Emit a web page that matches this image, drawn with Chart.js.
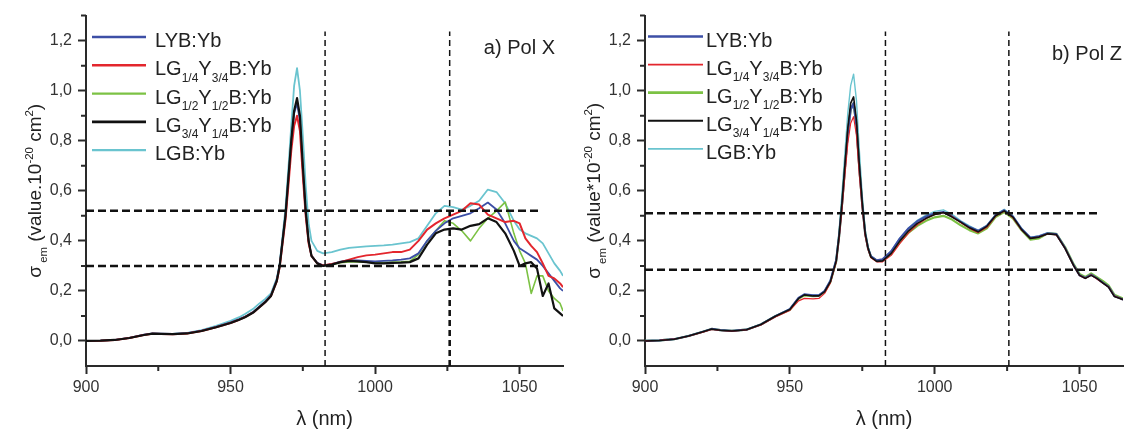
<!DOCTYPE html>
<html>
<head>
<meta charset="utf-8">
<script src="https://cdn.jsdelivr.net/npm/chart.js@4.4.1/dist/chart.umd.min.js"></script>
<style>
  html, body { margin: 0; padding: 0; background: #fff; }
  #wrap { position: relative; width: 1126px; height: 432px; overflow: hidden; }
  canvas { position: absolute; top: 0; }
</style>
</head>
<body>
<div id="wrap">
  <canvas id="chartA" width="566" height="432" style="left:0"></canvas>
  <canvas id="chartB" width="566" height="432" style="left:560px"></canvas>
</div>
<script>
// wavelength grid (nm), shared by all series
const wavelengths = [
  900, 905, 910, 915, 920,
  923, 926, 930, 935, 940,
  945, 950, 953, 955, 958,
  960, 962, 964, 966, 967,
  968, 969, 970, 971, 972,
  973, 974, 975, 976, 977,
  978, 980, 982, 985, 988,
  991, 994, 997, 1000, 1003,
  1006, 1009, 1012, 1015, 1018,
  1021, 1024, 1027, 1030, 1033,
  1036, 1039, 1042, 1045, 1048,
  1050, 1052, 1054, 1056, 1058,
  1060, 1062, 1064, 1065
];

const seriesNames = ['LYB:Yb', 'LG1/4Y3/4B:Yb', 'LG1/2Y1/2B:Yb', 'LG3/4Y1/4B:Yb', 'LGB:Yb'];
const seriesColors = ['#3d4fa6', '#e3262d', '#7cc244', '#111111', '#6ac4cf'];

// a) Pol X
const polX_LYB = [
  0, 0.001, 0.004, 0.012, 0.025,
  0.030, 0.029, 0.028, 0.031, 0.041,
  0.056, 0.074, 0.087, 0.097, 0.118,
  0.138, 0.158, 0.183, 0.245, 0.305,
  0.405, 0.505, 0.650, 0.795, 0.910,
  0.950, 0.880, 0.690, 0.515, 0.400,
  0.340, 0.312, 0.302, 0.307, 0.317,
  0.323, 0.322, 0.320, 0.318, 0.320,
  0.322, 0.325, 0.330, 0.350, 0.400,
  0.440, 0.470, 0.490, 0.500, 0.510,
  0.530, 0.553, 0.525, 0.470, 0.400,
  0.370, 0.355, 0.340, 0.325, 0.300,
  0.270, 0.240, 0.210, 0.200
];
const polX_G14 = [
  0, 0.001, 0.004, 0.012, 0.024,
  0.029, 0.028, 0.027, 0.030, 0.040,
  0.055, 0.072, 0.085, 0.095, 0.115,
  0.135, 0.155, 0.180, 0.238, 0.295,
  0.390, 0.485, 0.620, 0.760, 0.860,
  0.900, 0.840, 0.660, 0.500, 0.390,
  0.340, 0.310, 0.302, 0.308, 0.315,
  0.325, 0.335, 0.342, 0.345, 0.350,
  0.355, 0.355, 0.365, 0.400, 0.445,
  0.470, 0.490, 0.505, 0.520, 0.550,
  0.545, 0.505, 0.490, 0.475, 0.480,
  0.470, 0.410, 0.380, 0.355, 0.310,
  0.260, 0.250, 0.230, 0.215
];
const polX_G12 = [
  0, 0.001, 0.004, 0.012, 0.024,
  0.029, 0.028, 0.027, 0.030, 0.040,
  0.055, 0.073, 0.086, 0.096, 0.116,
  0.136, 0.156, 0.181, 0.242, 0.302,
  0.402, 0.502, 0.650, 0.800, 0.915,
  0.955, 0.890, 0.695, 0.515, 0.400,
  0.340, 0.311, 0.301, 0.305, 0.313,
  0.316, 0.316, 0.315, 0.313, 0.313,
  0.315, 0.316, 0.318, 0.345, 0.400,
  0.440, 0.480, 0.470, 0.440, 0.400,
  0.450, 0.490, 0.520, 0.555, 0.430,
  0.360, 0.310, 0.190, 0.260, 0.260,
  0.200, 0.170, 0.150, 0.120
];
const polX_G34 = [
  0, 0.001, 0.004, 0.012, 0.024,
  0.029, 0.028, 0.027, 0.030, 0.040,
  0.055, 0.072, 0.085, 0.095, 0.115,
  0.135, 0.155, 0.180, 0.240, 0.300,
  0.400, 0.500, 0.650, 0.800, 0.920,
  0.970, 0.900, 0.700, 0.520, 0.400,
  0.340, 0.310, 0.300, 0.305, 0.315,
  0.320, 0.318, 0.315, 0.310, 0.310,
  0.312, 0.313, 0.315, 0.330, 0.385,
  0.430, 0.445, 0.450, 0.445, 0.460,
  0.467, 0.490, 0.475, 0.430, 0.360,
  0.300, 0.310, 0.315, 0.290, 0.180,
  0.230, 0.130, 0.110, 0.100
];
const polX_LGB = [
  0, 0.001, 0.004, 0.012, 0.024,
  0.029, 0.028, 0.028, 0.032, 0.043,
  0.060, 0.080, 0.095, 0.108, 0.130,
  0.150, 0.168, 0.190, 0.250, 0.310,
  0.420, 0.530, 0.690, 0.860, 1.020,
  1.090, 1.000, 0.820, 0.620, 0.470,
  0.400, 0.360, 0.350, 0.355, 0.365,
  0.372, 0.375, 0.378, 0.380, 0.382,
  0.385, 0.390, 0.395, 0.410, 0.460,
  0.510, 0.540, 0.535, 0.525, 0.540,
  0.560, 0.605, 0.595, 0.550, 0.480,
  0.445, 0.430, 0.420, 0.410, 0.390,
  0.350, 0.310, 0.280, 0.260
];

// b) Pol Z
const polZ_LYB = [
  0, 0.002, 0.007, 0.020, 0.037,
  0.048, 0.043, 0.040, 0.045, 0.066,
  0.099, 0.127, 0.172, 0.186, 0.182,
  0.182, 0.199, 0.240, 0.322, 0.420,
  0.545, 0.690, 0.830, 0.925, 0.950,
  0.860, 0.690, 0.545, 0.430, 0.370,
  0.338, 0.322, 0.326, 0.358, 0.410,
  0.450, 0.478, 0.497, 0.510, 0.515,
  0.498, 0.476, 0.455, 0.440, 0.460,
  0.502, 0.522, 0.497, 0.447, 0.412,
  0.418, 0.430, 0.427, 0.372, 0.302,
  0.263, 0.252, 0.265, 0.250, 0.233,
  0.217, 0.180, 0.171, 0.166
];
const polZ_G14 = [
  0, 0.002, 0.007, 0.019, 0.035,
  0.046, 0.042, 0.039, 0.044, 0.064,
  0.096, 0.122, 0.160, 0.170, 0.168,
  0.170, 0.190, 0.232, 0.315, 0.410,
  0.525, 0.660, 0.790, 0.870, 0.896,
  0.820, 0.660, 0.530, 0.420, 0.365,
  0.332, 0.316, 0.316, 0.342, 0.390,
  0.432, 0.464, 0.488, 0.505, 0.513,
  0.497, 0.472, 0.450, 0.433, 0.453,
  0.498, 0.518, 0.492, 0.443, 0.410,
  0.415, 0.428, 0.424, 0.370, 0.300,
  0.262, 0.250, 0.264, 0.248, 0.232,
  0.216, 0.179, 0.170, 0.165
];
const polZ_G12 = [
  0, 0.002, 0.007, 0.020, 0.037,
  0.048, 0.043, 0.040, 0.045, 0.066,
  0.099, 0.125, 0.168, 0.182, 0.179,
  0.180, 0.196, 0.236, 0.318, 0.418,
  0.545, 0.690, 0.830, 0.925, 0.950,
  0.860, 0.690, 0.545, 0.430, 0.370,
  0.336, 0.320, 0.322, 0.348, 0.395,
  0.433, 0.460, 0.480, 0.494, 0.500,
  0.485, 0.462, 0.443, 0.430, 0.450,
  0.495, 0.515, 0.490, 0.442, 0.405,
  0.410, 0.430, 0.428, 0.375, 0.306,
  0.268, 0.256, 0.270, 0.255, 0.240,
  0.222, 0.185, 0.175, 0.170
];
const polZ_G34 = [
  0, 0.002, 0.007, 0.020, 0.037,
  0.048, 0.043, 0.040, 0.045, 0.066,
  0.099, 0.126, 0.170, 0.184, 0.180,
  0.180, 0.197, 0.237, 0.320, 0.420,
  0.550, 0.700, 0.850, 0.950, 0.975,
  0.880, 0.700, 0.550, 0.430, 0.370,
  0.335, 0.318, 0.320, 0.350, 0.400,
  0.440, 0.470, 0.490, 0.505, 0.513,
  0.495, 0.475, 0.452, 0.436, 0.458,
  0.500, 0.520, 0.495, 0.445, 0.410,
  0.415, 0.428, 0.425, 0.370, 0.300,
  0.262, 0.250, 0.262, 0.250, 0.232,
  0.215, 0.178, 0.170, 0.165
];
const polZ_LGB = [
  0, 0.002, 0.007, 0.020, 0.037,
  0.048, 0.043, 0.040, 0.046, 0.067,
  0.100, 0.128, 0.172, 0.186, 0.183,
  0.183, 0.200, 0.242, 0.328, 0.440,
  0.590, 0.750, 0.910, 1.020, 1.066,
  0.960, 0.760, 0.580, 0.445, 0.378,
  0.340, 0.322, 0.326, 0.360, 0.412,
  0.452, 0.482, 0.503, 0.518, 0.524,
  0.506, 0.480, 0.460, 0.442, 0.462,
  0.505, 0.526, 0.500, 0.450, 0.415,
  0.420, 0.433, 0.428, 0.373, 0.303,
  0.264, 0.253, 0.267, 0.250, 0.234,
  0.218, 0.181, 0.172, 0.167
];

// dashed guide lines
const guideX_A = [982.7, 1025.8];
const guideY_A = [0.52, 0.30];
const guideX_B = [983, 1025.6];
const guideY_B = [0.51, 0.285];
const guideSpanX = [900, 1057];
const guideSpanY = [-0.1, 1.236];

const FONT = '"Liberation Sans", Arial, sans-serif';
const AXIS = '#2a2a2a';

const legendParts = [
  [['LYB:Yb']],
  [['LG'], ['1/4', 'sub'], ['Y'], ['3/4', 'sub'], ['B:Yb']],
  [['LG'], ['1/2', 'sub'], ['Y'], ['1/2', 'sub'], ['B:Yb']],
  [['LG'], ['3/4', 'sub'], ['Y'], ['1/4', 'sub'], ['B:Yb']],
  [['LGB:Yb']]
];

function drawRich(ctx, parts, x, y, size, align) {
  const segs = parts.map(([t, m]) => {
    const fs = m ? size * 0.6 : size;
    ctx.font = fs + 'px ' + FONT;
    return { t, fs, dy: m === 'sub' ? size * 0.32 : m === 'sup' ? -size * 0.42 : 0, w: ctx.measureText(t).width };
  });
  const total = segs.reduce((a, s) => a + s.w, 0);
  let cx = align === 'center' ? x - total / 2 : align === 'right' ? x - total : x;
  ctx.textAlign = 'left';
  ctx.textBaseline = 'alphabetic';
  segs.forEach(s => {
    ctx.font = s.fs + 'px ' + FONT;
    ctx.fillText(s.t, cx, y + s.dy);
    cx += s.w;
  });
}

const isMajorX = v => Math.round(v) % 50 === 0;
const isMajorY = v => Math.round(v * 10) % 2 === 0;

const decor = {
  id: 'decor',
  afterDraw(chart, args, o) {
    const ctx = chart.ctx;
    const xs = chart.scales.x, ys = chart.scales.y;
    ctx.save();
    // minor ticks
    ctx.strokeStyle = AXIS;
    ctx.lineWidth = 2;
    ctx.beginPath();
    xs.ticks.forEach(t => {
      if (!isMajorX(t.value)) {
        const p = xs.getPixelForValue(t.value);
        ctx.moveTo(p, xs.top); ctx.lineTo(p, xs.top + 5);
      }
    });
    ys.ticks.forEach(t => {
      if (!isMajorY(t.value) && t.value > -0.05) {
        const p = ys.getPixelForValue(t.value);
        ctx.moveTo(ys.right - 5, p); ctx.lineTo(ys.right, p);
      }
    });
    ctx.stroke();

    ctx.fillStyle = '#222';
    // panel label
    ctx.font = '20px ' + FONT;
    ctx.textAlign = 'right';
    ctx.textBaseline = 'alphabetic';
    ctx.fillText(o.label, o.labelX, o.labelY);

    // x title
    ctx.textAlign = 'center';
    ctx.fillText('λ (nm)', (chart.chartArea.left + chart.chartArea.right) / 2, 425);

    // y title
    ctx.save();
    ctx.translate(o.yTitleX, (chart.chartArea.top + chart.chartArea.bottom) / 2);
    ctx.rotate(-Math.PI / 2);
    drawRich(ctx, o.yTitle, 0, 0, 19, 'center');
    ctx.restore();

    // legend
    o.legendRows.forEach((parts, i) => {
      const ds = chart.data.datasets[i];
      const y = o.legendY0 + i * o.legendDy;
      ctx.strokeStyle = ds.borderColor;
      ctx.lineWidth = ds.borderWidth + 0.5;
      ctx.setLineDash([]);
      ctx.beginPath();
      ctx.moveTo(o.legendX0, y); ctx.lineTo(o.legendX1, y);
      ctx.stroke();
      ctx.fillStyle = '#222';
      drawRich(ctx, parts, o.textX, y + 10, 20, 'left');
    });
    ctx.restore();
  }
};

function seriesSet(values, widths, orders) {
  return values.map((vals, i) => ({
    label: seriesNames[i],
    data: wavelengths.map((w, k) => ({ x: w, y: vals[k] })),
    borderColor: seriesColors[i],
    borderWidth: widths[i],
    pointRadius: 0,
    tension: 0,
    borderJoinStyle: 'round',
    order: orders[i]
  }));
}

function guideSets(gx, gy, extra) {
  const sets = [];
  gx.forEach(v => sets.push({
    data: guideSpanY.map(y => ({ x: v, y })),
    borderColor: '#111', borderWidth: 1.5, borderDash: [6, 4], pointRadius: 0, order: -1
  }));
  gy.forEach(v => sets.push({
    data: guideSpanX.map(x => ({ x, y: v })),
    borderColor: '#111', borderWidth: 2.5, borderDash: [8, 4], pointRadius: 0, order: -1
  }));
  if (extra) sets.push({
    data: [{ x: gx[1], y: -0.1 }, { x: gx[1], y: gy[0] }],
    borderColor: '#111', borderWidth: 2.5, borderDash: [6, 4], pointRadius: 0, order: -1
  });
  return sets;
}

function makeChart(id, datasets, yWidth, decorOpts) {
  return new Chart(document.getElementById(id), {
    type: 'line',
    data: { datasets },
    options: {
      responsive: false,
      animation: false,
      layout: { padding: { top: 11, right: 3, left: 0, bottom: 0 } },
      plugins: { legend: { display: false }, tooltip: { enabled: false }, decor: decorOpts },
      scales: {
        x: {
          type: 'linear', min: 900, max: 1065,
          afterFit: s => { s.height = 66; },
          ticks: {
            stepSize: 25, includeBounds: false, autoSkip: false, maxRotation: 0, padding: 4,
            color: '#333', font: { size: 16, family: FONT },
            callback: v => isMajorX(v) ? String(v) : ''
          },
          grid: {
            drawOnChartArea: false, tickLength: 8, tickWidth: 2,
            tickColor: c => isMajorX(c.tick.value) ? AXIS : 'rgba(0,0,0,0)'
          },
          border: { color: AXIS, width: 2 }
        },
        y: {
          min: -0.1, max: 1.3,
          afterFit: s => { s.width = yWidth; },
          ticks: {
            stepSize: 0.1, includeBounds: false, autoSkip: false, padding: 6,
            color: '#333', font: { size: 16, family: FONT },
            callback: v => (isMajorY(v) && v > -0.05) ? v.toFixed(1).replace('.', ',') : ''
          },
          grid: {
            drawOnChartArea: false, tickLength: 8, tickWidth: 2,
            tickColor: c => (isMajorY(c.tick.value) && c.tick.value > -0.05) ? AXIS : 'rgba(0,0,0,0)'
          },
          border: { color: AXIS, width: 2 }
        }
      }
    },
    plugins: [decor]
  });
}

makeChart('chartA',
  seriesSet([polX_LYB, polX_G14, polX_G12, polX_G34, polX_LGB], [1.8, 2, 1.6, 2.2, 1.8], [2, 1, 3, 0, 4])
    .concat(guideSets(guideX_A, guideY_A, true)),
  86,
  {
    label: 'a) Pol X', labelX: 555, labelY: 54,
    yTitleX: 41,
    yTitle: [['σ'], [' em', 'sub'], [' (value.10'], ['-20', 'sup'], [' cm'], ['2', 'sup'], [')']],
    legendRows: legendParts, legendX0: 92, legendX1: 146, textX: 155, legendY0: 37, legendDy: 28.3
  });

makeChart('chartB',
  seriesSet([polZ_LYB, polZ_G14, polZ_G12, polZ_G34, polZ_LGB], [2.2, 1.2, 2.2, 1.6, 1.4], [2, 1, 3, 0, 4])
    .concat(guideSets(guideX_B, guideY_B, false)),
  85,
  {
    label: 'b) Pol Z', labelX: 562, labelY: 60,
    yTitleX: 40,
    yTitle: [['σ'], [' em', 'sub'], [' (value*10'], ['-20', 'sup'], [' cm'], ['2', 'sup'], [')']],
    legendRows: legendParts, legendX0: 88, legendX1: 143, textX: 146, legendY0: 36.5, legendDy: 28.1
  });
</script>
</body>
</html>
